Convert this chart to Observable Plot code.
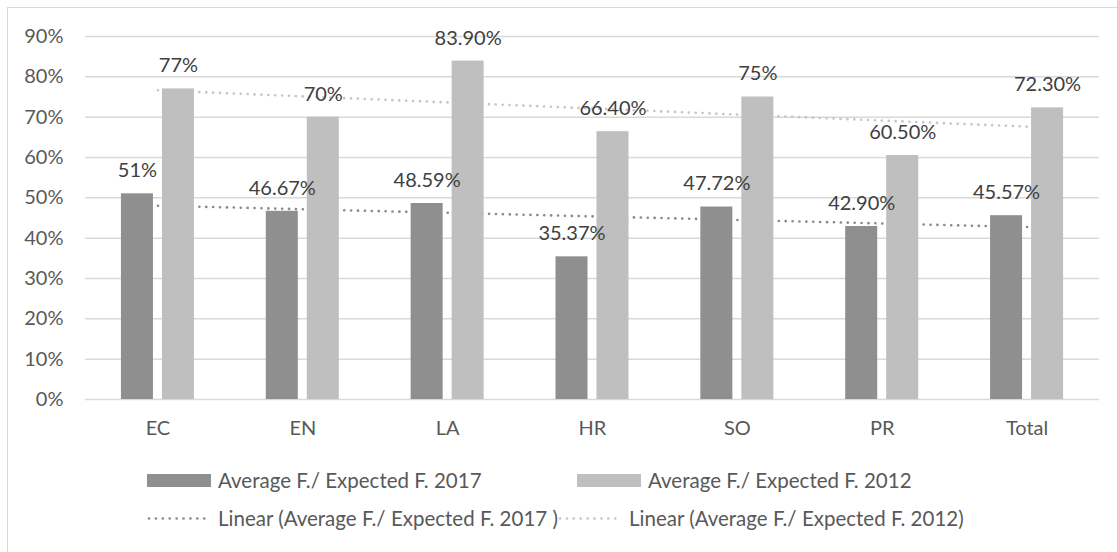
<!DOCTYPE html>
<html>
<head>
<meta charset="utf-8">
<script src="https://cdn.jsdelivr.net/npm/d3@7"></script>
<script src="https://cdn.jsdelivr.net/npm/@observablehq/plot@0.6"></script>
<style>
  html, body { margin: 0; padding: 0; background: #fff; }
  #wrap { position: relative; width: 1117px; height: 552px; overflow: hidden; font-family: Lato, "Open Sans", sans-serif; }
  #border { position: absolute; left: 7px; top: 7px; width: 1130px; height: 570px; border: 1px solid #d9d9d9; box-sizing: border-box; }
  #chart { position: absolute; left: 0; top: 0; }
  .item { position: absolute; display: flex; align-items: center; height: 24px; font-size: 20.5px; color: #595959; white-space: nowrap; }
  .sw { width: 64px; height: 13px; margin-right: 7px; }
  .dot { width: 64px; height: 3px; margin-right: 7px; }
</style>
</head>
<body>
<div id="wrap">
  <div id="border"></div>
  <div id="chart"></div>
  <div class="item" style="left:147px; top:468px;"><div class="sw" style="background:#8f8f8f"></div>Average F./ Expected F. 2017</div>
  <div class="item" style="left:577px; top:468px;"><div class="sw" style="background:#bfbfbf"></div>Average F./ Expected F. 2012</div>
  <div class="item" style="left:147px; top:506px;"><svg class="dot" width="64" height="3"><line x1="2" x2="62" y1="1.5" y2="1.5" stroke="#8a8a8a" stroke-width="2.6" stroke-linecap="round" stroke-dasharray="0.1 6.8"/></svg>Linear (Average F./ Expected F. 2017 )</div>
  <div class="item" style="left:558px; top:506px;"><svg class="dot" width="64" height="3"><line x1="2" x2="62" y1="1.5" y2="1.5" stroke="#c6c6c6" stroke-width="2.6" stroke-linecap="round" stroke-dasharray="0.1 6.8"/></svg>Linear (Average F./ Expected F. 2012)</div>
</div>
<script>
const categories = ["EC", "EN", "LA", "HR", "SO", "PR", "Total"];
const values2017 = [51, 46.67, 48.59, 35.37, 47.72, 42.90, 45.57];
const values2012 = [77, 70, 83.90, 66.40, 75, 60.50, 72.30];
const labels2017 = ["51%", "46.67%", "48.59%", "35.37%", "47.72%", "42.90%", "45.57%"];
const labels2012 = ["77%", "70%", "83.90%", "66.40%", "75%", "60.50%", "72.30%"];
const yTicks = [0, 10, 20, 30, 40, 50, 60, 70, 80, 90];

const rows = categories.map((c, i) => ({
  i, cat: c, v17: values2017[i], v12: values2012[i], l17: labels2017[i], l12: labels2012[i]
}));

const half = 0.252, gap = 0.031, off = 0.1415;

const chart = Plot.plot({
  width: 1117,
  height: 460,
  marginLeft: 85,
  marginRight: 18,
  marginTop: 36,
  marginBottom: 61,
  x: { domain: [-0.5, 6.5], axis: null, label: null },
  y: { domain: [0, 90], axis: null, label: null },
  style: { fontFamily: "Lato, 'Open Sans', sans-serif", fontSize: "20px", background: "transparent" },
  marks: [
    Plot.ruleY(yTicks, { stroke: "#d9d9d9", strokeWidth: 1.5 }),
    Plot.axisY({ ticks: yTicks, tickFormat: d => d + "%", tickSize: 0, tickPadding: 22, fill: "#595959", fontSize: 20, label: null }),
    Plot.axisX({ ticks: rows.map(d => d.i), tickFormat: i => categories[i], tickSize: 0, tickPadding: 21, fill: "#595959", fontSize: 20, label: null }),
    Plot.linearRegressionY(rows, { x: "i", y: "v17", ci: 0, stroke: "#8a8a8a", strokeWidth: 2.6, strokeLinecap: "round", strokeDasharray: "0.1 6.8" }),
    Plot.linearRegressionY(rows, { x: "i", y: "v12", ci: 0, stroke: "#c6c6c6", strokeWidth: 2.6, strokeLinecap: "round", strokeDasharray: "0.1 6.8" }),
    Plot.rectY(rows, { x1: d => d.i - half, x2: d => d.i - gap, y: "v17", fill: "#8f8f8f" }),
    Plot.rectY(rows, { x1: d => d.i + gap, x2: d => d.i + half, y: "v12", fill: "#bfbfbf" }),
    Plot.text(rows, { x: d => d.i - off, y: "v17", text: "l17", dy: -23, fill: "#404040", fontSize: 20 }),
    Plot.text(rows, { x: d => d.i + off, y: "v12", text: "l12", dy: -23, fill: "#404040", fontSize: 20 })
  ]
});
document.getElementById("chart").appendChild(chart);
</script>
</body>
</html>
